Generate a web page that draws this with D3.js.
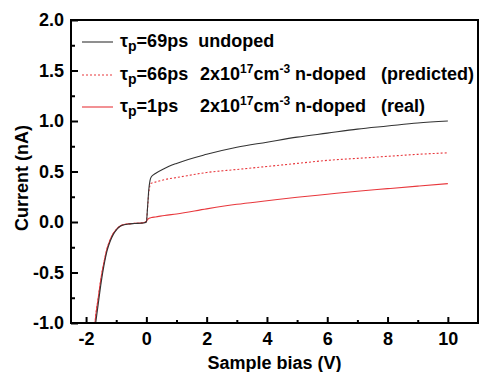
<!DOCTYPE html>
<html lang="en">
<head>
    <meta charset="UTF-8">
    <title>Current vs sample bias</title>
    <script src="https://d3js.org/d3.v7.min.js"></script>
    <style>
        body { margin: 0; background: #fff; }
        svg { width: 480px; height: 372px; font-family: "Liberation Sans", Arial, sans-serif; }
        text { white-space: pre; }
    </style>
</head>
<body>
    <svg id="chart"></svg>

    <script>
        // bias points (V), shared by all three curves
        const bias = [-1.72, -1.68, -1.6, -1.5, -1.4, -1.3, -1.2, -1.1, -1.0, -0.9, -0.8, -0.6, -0.4, -0.2, -0.1, 0,
            0.04, 0.08, 0.12, 0.17, 0.3, 0.6, 1, 2, 3, 4, 5, 6, 7, 8, 9, 10];

        // tau_p = 69ps undoped
        const undoped = [-1.1, -1.0, -0.82, -0.6, -0.42, -0.28, -0.19, -0.125, -0.08, -0.05, -0.033, -0.02, -0.015, -0.012, -0.01, 0.0,
            0.15, 0.32, 0.41, 0.45, 0.48, 0.53, 0.58, 0.67, 0.74, 0.79, 0.84, 0.88, 0.92, 0.95, 0.98, 1.0];

        // tau_p = 66ps, 2e17 n-doped (predicted)
        const predicted = [-1.05, -0.93, -0.76, -0.55, -0.39, -0.26, -0.175, -0.115, -0.075, -0.047, -0.031, -0.019, -0.014, -0.011, -0.008, 0.005,
            0.14, 0.29, 0.36, 0.385, 0.395, 0.42, 0.44, 0.49, 0.52, 0.55, 0.58, 0.61, 0.63, 0.65, 0.67, 0.685];

        // tau_p = 1ps, 2e17 n-doped (real)
        const real = [-1.05, -0.93, -0.76, -0.55, -0.39, -0.26, -0.175, -0.115, -0.075, -0.047, -0.031, -0.019, -0.014, -0.011, -0.008, 0.005,
            0.025, 0.035, 0.04, 0.045, 0.05, 0.065, 0.08, 0.13, 0.175, 0.21, 0.245, 0.275, 0.305, 0.33, 0.355, 0.38];

        const xTicks = [-2, 0, 2, 4, 6, 8, 10];
        const yTicks = [-1.0, -0.5, 0.0, 0.5, 1.0, 1.5, 2.0];

        const pLeft = 71, pRight = 478, pTop = 20, pBottom = 323;

        var svg = d3.select('#chart');

        var xScale = d3.scaleLinear().domain([-2.5, 11]).range([pLeft, pRight]);
        var yScale = d3.scaleLinear().domain([-1, 2]).range([pBottom, pTop]);

        svg.append("clipPath").attr("id", "clip")
            .append("rect")
            .attr("x", pLeft).attr("y", pTop)
            .attr("width", pRight - pLeft).attr("height", pBottom - pTop);

        var line = function (ys) {
            return d3.line()
                .x(function (d, i) { return xScale(bias[i]); })
                .y(function (d) { return yScale(d); })
                .curve(d3.curveMonotoneX)(ys);
        };

        var series = [
            { values: real, color: "#e8383d", dash: null },
            { values: predicted, color: "#e8383d", dash: "2,2" },
            { values: undoped, color: "#333", dash: null }
        ];

        svg.append("g").attr("clip-path", "url(#clip)")
            .selectAll("path")
            .data(series)
            .join("path")
            .attr("d", function (d) { return line(d.values); })
            .attr("fill", "none")
            .attr("stroke", function (d) { return d.color; })
            .attr("stroke-width", 1.1)
            .attr("stroke-dasharray", function (d) { return d.dash; });

        // axes with inward ticks
        var xAxis = svg.append("g")
            .attr("transform", "translate(0," + pBottom + ")")
            .call(d3.axisBottom(xScale).tickValues(d3.range(-2, 11, 1)).tickSize(-4).tickFormat(""));
        xAxis.selectAll(".tick line").attr("y2", function (d) { return d % 2 === 0 ? -6 : -3; });
        var xMajor = svg.append("g")
            .attr("transform", "translate(0," + pBottom + ")")
            .call(d3.axisBottom(xScale).tickValues(xTicks).tickSize(0).tickPadding(9)
                .tickFormat(function (d) { return String(d); }));

        var yAxis = svg.append("g")
            .attr("transform", "translate(" + pLeft + ",0)")
            .call(d3.axisLeft(yScale).tickValues(d3.range(-1, 2.01, 0.25)).tickSize(-4).tickFormat(""));
        yAxis.selectAll(".tick line").attr("x2", function (d) { return Math.abs(d * 2 - Math.round(d * 2)) < 1e-6 ? 7 : 4; });
        var yMajor = svg.append("g")
            .attr("transform", "translate(" + pLeft + ",0)")
            .call(d3.axisLeft(yScale).tickValues(yTicks).tickSize(0).tickPadding(7)
                .tickFormat(function (d) { return d.toFixed(1); }));

        svg.selectAll(".domain").remove();
        svg.selectAll(".tick line").attr("stroke", "#000").attr("stroke-width", 2);
        svg.selectAll(".tick text").attr("font-size", 18).attr("font-weight", "bold")
            .attr("font-family", "Liberation Sans, Arial, sans-serif").attr("fill", "#000");

        // frame
        svg.append("rect")
            .attr("x", pLeft).attr("y", pTop)
            .attr("width", pRight - pLeft).attr("height", pBottom - pTop)
            .attr("fill", "none").attr("stroke", "#000").attr("stroke-width", 2);

        // axis titles
        svg.append("text")
            .attr("x", (pLeft + pRight) / 2).attr("y", 369)
            .attr("text-anchor", "middle").attr("font-size", 18).attr("font-weight", "bold")
            .text("Sample bias (V)");
        svg.append("text")
            .attr("transform", "translate(28,178) rotate(-90)")
            .attr("text-anchor", "middle").attr("font-size", 18).attr("font-weight", "bold")
            .text("Current (nA)");

        // legend
        var legendRows = [
            { y: 42, color: "#333", dash: null, tail: "=69ps  undoped", doped: null },
            { y: 75, color: "#e8383d", dash: "2,2", tail: "=66ps", doped: "   (predicted)" },
            { y: 107, color: "#e8383d", dash: null, tail: "=1ps", doped: "   (real)" }
        ];
        var legend = svg.append("g");
        legendRows.forEach(function (r) {
            legend.append("line")
                .attr("x1", 82).attr("x2", 113).attr("y1", r.y).attr("y2", r.y)
                .attr("stroke", r.color).attr("stroke-width", 1.1).attr("stroke-dasharray", r.dash);
            var t = legend.append("text")
                .attr("x", 120).attr("y", r.y + 5)
                .attr("font-size", 18).attr("font-weight", "bold");
            t.append("tspan").text("τ");
            t.append("tspan").attr("font-size", 14).attr("dy", 4).text("p");
            t.append("tspan").attr("dy", -4).text(r.tail);
            if (r.doped) {
                t.append("tspan").attr("x", 200).text("2x10");
                t.append("tspan").attr("font-size", 12).attr("dy", -7).text("17");
                t.append("tspan").attr("dy", 7).text("cm");
                t.append("tspan").attr("font-size", 12).attr("dy", -7).text("-3");
                t.append("tspan").attr("dy", 7).text(" n-doped" + r.doped);
            }
        });
    </script>
</body>
</html>
